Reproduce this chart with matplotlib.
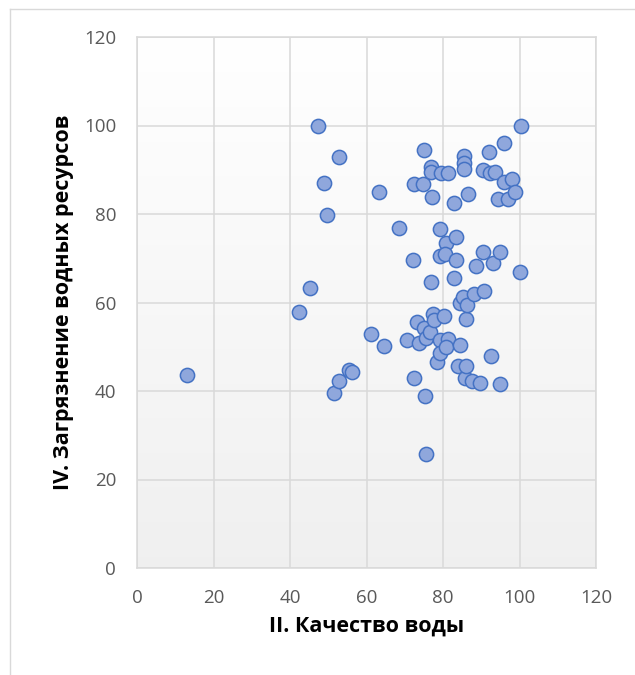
import numpy as np
import matplotlib
matplotlib.use("Agg")
import matplotlib.pyplot as plt
from matplotlib.lines import Line2D

plt.rcParams['font.family'] = ['Open Sans', 'DejaVu Sans']

x_title = "II. Качество воды"
y_title = "IV. Загрязнение водных ресурсов"
ticks = [0, 20, 40, 60, 80, 100, 120]

quality = [
    13.0, 42.3, 45.2, 47.2, 48.9, 49.8, 51.4, 52.8, 52.8, 55.3,
    56.3, 61.1, 63.3, 64.5, 68.4, 70.5, 72.3, 72.2, 72.5, 73.1,
    73.8, 74.7, 75.0, 75.2, 75.6, 75.1, 75.6, 76.5, 76.9, 76.9,
    77.2, 76.8, 77.3, 77.7, 78.4, 79.3, 79.3, 79.1, 79.3, 79.6,
    80.7, 80.4, 80.2, 81.3, 81.3, 80.9, 82.8, 83.0, 83.4, 83.4,
    84.5, 84.4, 83.9, 85.5, 85.5, 85.5, 85.2, 85.7, 85.9, 86.6,
    86.4, 86.0, 87.6, 88.5, 88.1, 89.8, 90.5, 90.4, 90.6, 91.9,
    92.2, 92.6, 93.2, 93.5, 94.4, 94.9, 95.0, 95.9, 96.0, 96.9,
    98.1, 98.8, 100.3, 100.2,
]
pollution = [
    43.6, 57.8, 63.3, 100.0, 87.1, 79.8, 39.5, 42.3, 92.8, 44.7,
    44.2, 52.9, 85.0, 50.2, 76.9, 51.5, 86.8, 69.5, 43.0, 55.5,
    50.9, 86.8, 94.5, 38.9, 25.7, 54.2, 51.9, 53.4, 90.7, 89.6,
    83.9, 64.6, 57.3, 56.1, 46.5, 76.6, 70.4, 51.5, 48.6, 89.2,
    73.4, 70.9, 57.0, 89.2, 51.7, 50.0, 65.5, 82.4, 74.9, 69.5,
    59.8, 50.3, 45.6, 93.0, 91.5, 90.1, 61.2, 43.0, 56.2, 84.5,
    59.5, 45.6, 42.3, 68.2, 61.9, 41.7, 90.0, 71.3, 62.5, 94.1,
    89.2, 47.9, 69.0, 89.5, 83.4, 71.5, 41.6, 87.3, 96.1, 83.4,
    88.0, 85.0, 100.0, 66.9,
]

W, H = 635, 675
fig = plt.figure(figsize=(W / 100, H / 100), dpi=100)
fig.patch.set_facecolor('white')

# outer chart border (left and top visible)
fig.add_artist(Line2D([10 / W, 10 / W], [0, 1 - 8.5 / H], transform=fig.transFigure,
                      color='#D9D9D9', lw=1.0))
fig.add_artist(Line2D([10 / W, 1], [1 - 8.5 / H, 1 - 8.5 / H], transform=fig.transFigure,
                      color='#D9D9D9', lw=1.0))

left, right, top, bottom = 137, 596, 37, 568
ax = fig.add_axes([left / W, 1 - bottom / H, (right - left) / W, (bottom - top) / H])
ax.set_xlim(0, 120)
ax.set_ylim(0, 120)

# gradient background
grad = np.linspace(1.0, 0.94, 256).reshape(-1, 1)
ax.imshow(np.dstack([grad, grad, grad]), extent=(0, 1, 0, 1), transform=ax.transAxes,
          aspect='auto', zorder=0, origin='upper')

ax.set_xticks(ticks)
ax.set_yticks(ticks)
ax.grid(True, color='#D9D9D9', lw=1.1, zorder=1)
ax.set_axisbelow(True)
for s in ax.spines.values():
    s.set_color('#D9D9D9')
    s.set_linewidth(1.1)
ax.tick_params(length=0, labelsize=13.5, labelcolor='#595959')
ax.tick_params(axis='y', pad=15)
ax.tick_params(axis='x', pad=15)

ax.scatter(quality, pollution, s=105, facecolor='#8FA7DC', edgecolor='#4472C4',
           linewidths=1.1, zorder=3, clip_on=False)

ax.set_xlabel(x_title, fontsize=15.5, fontweight='bold', color='black', labelpad=6)
ax.set_ylabel(y_title, fontsize=15.5, fontweight='bold', color='black', labelpad=7)

fig.savefig('out.png', dpi=100)
